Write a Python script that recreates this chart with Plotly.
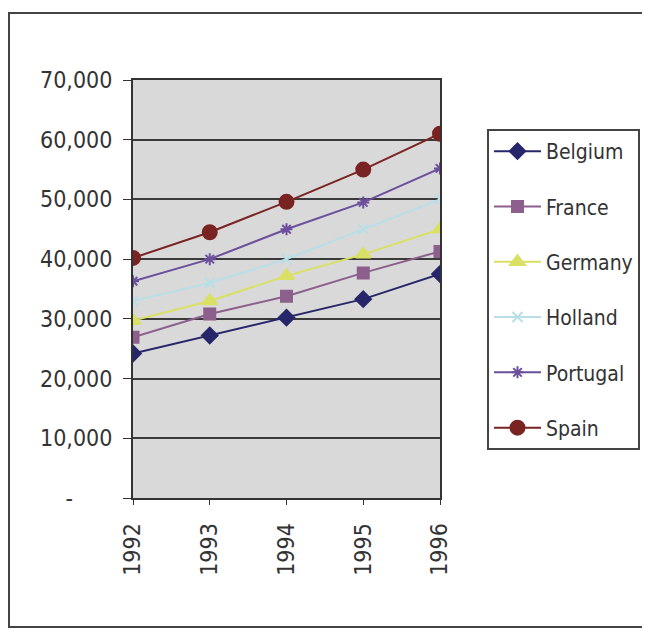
import plotly.graph_objects as go

years = [1992, 1993, 1994, 1995, 1996]
year_labels = ["1992", "1993", "1994", "1995", "1996"]

belgium = [24200, 27200, 30200, 33300, 37500]
france = [26900, 30800, 33800, 37700, 41300]
germany = [29700, 33000, 37200, 40800, 45000]
holland = [33000, 36000, 40000, 45000, 50000]
portugal = [36300, 40000, 45000, 49500, 55200]
spain = [40200, 44500, 49600, 55000, 61000]

y_ticks = [0, 10000, 20000, 30000, 40000, 50000, 60000, 70000]
y_tick_labels = ["-\u00a0\u00a0\u00a0\u00a0\u00a0\u00a0", "10,000", "20,000", "30,000", "40,000", "50,000", "60,000", "70,000"]

series = [
    ("Belgium", belgium, "#27266b", "diamond", 12),
    ("France", france, "#8c5f8c", "square", 11),
    ("Germany", germany, "#d9e063", "triangle-up", 13),
    ("Holland", holland, "#b9dfe6", "x-thin-open", 10),
    ("Portugal", portugal, "#6b4f9c", "asterisk-open", 10),
    ("Spain", spain, "#7a2323", "circle", 14),
]

FONT = "DejaVu Sans Condensed, Liberation Sans Narrow, Liberation Sans, Arial, sans-serif"

fig = go.Figure()
for name, vals, color, sym, size in series:
    fig.add_trace(go.Scatter(
        x=years, y=vals, name=name, mode="lines+markers",
        legendgroup=name,
        line=dict(color=color, width=2),
        marker=dict(symbol=sym, size=size, color=color,
                    line=dict(color=color, width=2)),
    ))

# page body margin is 8px; keep the figure inside the window (no scrollbars)
OFF = 8
W, H = 634, 621
L = 133 - OFF
T = 80 - OFF
R = W - (440 - OFF)
B = H - (498 - OFF)
pw = W - L - R
ph = H - T - B

def px(x):
    return (x - OFF - L) / pw

def py(y):
    return (H - B - (y - OFF)) / ph

fig.update_layout(
    width=W, height=H,
    margin=dict(l=L, r=R, t=T, b=B, pad=0, autoexpand=False),
    paper_bgcolor="white",
    plot_bgcolor="#d9d9d9",
    font=dict(family=FONT, size=23, color="#333333"),
    showlegend=True,
    legend=dict(
        x=px(487), y=py(129), xanchor="left", yanchor="top",
        bgcolor="white", bordercolor="#444444", borderwidth=2,
        font=dict(family=FONT, size=21, color="#333333"),
        tracegroupgap=25, itemwidth=47, maxheight=600,
    ),
    xaxis=dict(
        range=[1992, 1996], tickvals=years, ticktext=year_labels,
        tickangle=-90, showgrid=False, zeroline=False,
        showline=True, linecolor="#333333", linewidth=2, mirror=True,
        ticks="outside", ticklen=5, tickcolor="#333333",
        tickfont=dict(family=FONT, size=23, color="#333333"),
        ticklabelstandoff=9, automargin=False,
    ),
    yaxis=dict(
        range=[0, 70000], tickvals=y_ticks, ticktext=y_tick_labels,
        showgrid=True, gridcolor="#3a3a3a", gridwidth=2,
        zeroline=False,
        showline=True, linecolor="#333333", linewidth=2, mirror=True,
        ticks="outside", ticklen=8, tickcolor="#333333",
        tickfont=dict(family=FONT, size=23, color="#333333"),
        ticklabelstandoff=6, automargin=False,
    ),
    shapes=[dict(
        type="rect", xref="paper", yref="paper",
        x0=px(9), x1=px(700), y0=py(627), y1=py(13),
        line=dict(color="#444444", width=2), fillcolor="rgba(0,0,0,0)",
        layer="below",
    )],
)

fig.write_html("out.html")
